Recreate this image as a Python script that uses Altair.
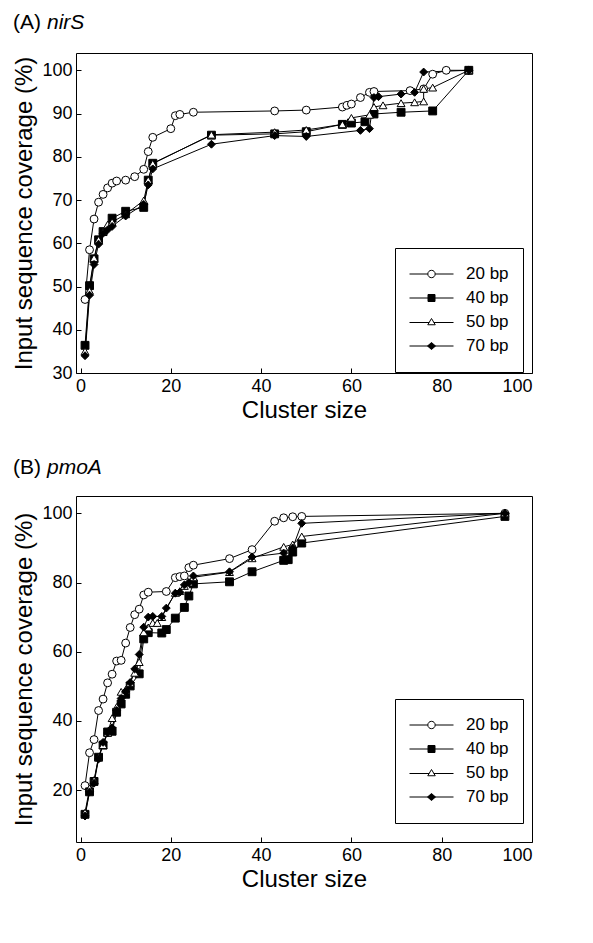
import altair as alt
import pandas as pd

SERIES = ["20 bp", "40 bp", "50 bp", "70 bp"]
PANEL_LABELS = ["(A)", "(B)"]
GENES = ["nirS", "pmoA"]
X_TITLE = "Cluster size"
Y_TITLE = "Input sequence coverage (%)"

# ---------------- Panel A (nirS) ----------------
A20_X = [1, 2, 3, 4, 5, 6, 7, 8, 10, 12, 14, 15, 16, 20, 21, 22, 25, 43, 50, 58, 59, 60, 62, 64, 65, 73, 76, 78, 81, 86]
A20_Y = [47, 58.5, 65.6, 69.5, 71.3, 72.8, 73.9, 74.4, 74.6, 75.4, 77.1, 81.2, 84.5, 86.5, 89.5, 89.8, 90.3, 90.6, 90.8, 91.5, 91.9, 92.2, 93.7, 94.9, 95.1, 95.3, 95.7, 99.1, 100, 100]
A40_X = [1, 2, 3, 4, 5, 7, 10, 14, 15, 16, 29, 43, 50, 58, 60, 63, 65, 71, 78, 86]
A40_Y = [36.4, 50.2, 56.4, 60.8, 62.7, 65.8, 67.4, 68.3, 74.6, 78.5, 85.0, 85.3, 85.8, 87.5, 87.8, 88.1, 89.9, 90.3, 90.6, 100]
A50_X = [1, 2, 3, 4, 5, 6, 7, 10, 14, 15, 16, 29, 43, 50, 58, 60, 64, 65, 67, 71, 74, 76, 76, 78, 86]
A50_Y = [35, 49, 56.6, 60.8, 62.7, 64.3, 64.9, 66.7, 69.9, 74.6, 78.4, 85.1, 85.7, 86.2, 87.5, 89.0, 89.7, 91.5, 91.9, 92.4, 92.6, 92.8, 95.7, 96.0, 100]
A70_X = [1, 2, 3, 4, 5, 6, 7, 10, 14, 15, 16, 29, 43, 50, 62, 64, 65, 66, 71, 74, 76, 86]
A70_Y = [34, 48, 55.1, 59.8, 62.3, 63.1, 63.9, 66.3, 69, 73.5, 77.2, 82.9, 84.9, 84.7, 86.1, 86.5, 93.7, 93.9, 94.5, 94.9, 99.6, 100]

# ---------------- Panel B (pmoA) ----------------
B20_X = [1, 2, 3, 4, 5, 6, 7, 8, 9, 10, 11, 12, 13, 14, 15, 19, 21, 22, 23, 24, 25, 33, 38, 43, 45, 47, 49, 94]
B20_Y = [21.3, 30.8, 34.6, 43, 46.3, 51, 53.5, 57.3, 57.5, 62.5, 67, 70.7, 72.3, 76.4, 77.2, 77.4, 81.4, 81.7, 81.9, 84.3, 85, 86.9, 89.5, 97.7, 98.7, 99, 99.1, 100]
B40_X = [1, 2, 3, 4, 5, 6, 7, 8, 9, 10, 11, 13, 14, 15, 18, 19, 21, 23, 24, 25, 33, 38, 45, 46, 47, 49, 94]
B40_Y = [13, 19.5, 22.5, 29.5, 33, 36.8, 37, 42.5, 44.9, 47.7, 50.1, 53.6, 63.7, 65.5, 65.4, 66.4, 69.7, 72.8, 76.1, 79.6, 80.2, 83.1, 86.4, 86.6, 88.8, 91.4, 99.1]
B50_X = [1, 2, 3, 4, 5, 6, 7, 8, 9, 10, 11, 12, 13, 14, 15, 16, 17, 18, 21, 22, 23, 24, 25, 33, 38, 45, 47, 49, 94]
B50_Y = [13.5, 20.5, 22.9, 29.5, 33, 36.5, 40.8, 44, 48.4, 49, 51, 53.9, 57, 65.6, 67, 68.3, 68.3, 70, 77, 77.5, 79, 80, 81.5, 83, 87, 90.3, 91, 93.3, 100]
B70_X = [1, 2, 3, 4, 5, 6, 7, 8, 9, 10, 11, 12, 13, 14, 15, 16, 18, 19, 21, 22, 23, 24, 25, 33, 38, 45, 47, 49, 94]
B70_Y = [12.5, 19.5, 22, 29, 33.8, 36.5, 38, 43, 46.5, 48.5, 51.1, 55, 59.2, 67.1, 70, 70.2, 70.2, 72.6, 76.9, 77.2, 79.3, 80, 81.9, 83.1, 87.4, 88.5, 90, 97.1, 100]

FONT = "Liberation Sans"
SHAPES = ["circle", "square", "triangle-up", "diamond"]
FILLS = ["white", "black", "white", "black"]
STROKES = ["black", "black", "black", "black"]
# legend symbols: a short line through the marker
LEG_SHAPES = [
    "M-4.4,0H-0.74M0.74,0H4.4M-0.74,0A0.74,0.74,0,1,0,0.74,0A0.74,0.74,0,1,0,-0.74,0Z",
    "M-4.4,0H4.4M-0.7,-0.7H0.7V0.7H-0.7Z",
    "M-4.4,0.1H-0.45M0.45,0.1H4.4M0,-0.7L0.75,0.55L-0.75,0.55Z",
    "M-4.4,0H4.4M0,-0.7L0.8,0L0,0.7L-0.8,0Z",
]

W = 456
TITLE_FS = 21


def make_df(xs_list, ys_list):
    rows = []
    for s, xs, ys in zip(SERIES, xs_list, ys_list):
        for i, (x, y) in enumerate(zip(xs, ys)):
            rows.append({"series": s, "x": x, "y": y, "idx": i})
    return pd.DataFrame(rows)


def panel(df, label, gene, ydomain, yticks, H, lx, ly, title_y):
    x = alt.X("x:Q", scale=alt.Scale(domain=[-1, 100], nice=False, zero=False),
              axis=alt.Axis(values=[0, 20, 40, 60, 80, 100], title=X_TITLE,
                            titlePadding=3, labelPadding=4))
    y = alt.Y("y:Q", scale=alt.Scale(domain=ydomain, nice=False, zero=False),
              axis=alt.Axis(values=yticks, title=Y_TITLE, titlePadding=5, labelPadding=4))
    base = alt.Chart(df)
    lines = base.mark_line(color="black", strokeWidth=1).encode(
        x=x, y=y, detail="series:N", order="idx:Q")
    pts = base.mark_point(filled=True, stroke="black", strokeWidth=1, size=62, opacity=1).encode(
        x=x, y=y,
        shape=alt.Shape("series:N", scale=alt.Scale(domain=SERIES, range=SHAPES), legend=None),
        fill=alt.Fill("series:N", scale=alt.Scale(domain=SERIES, range=FILLS), legend=None),
    )
    leg = alt.Legend(orient="none", legendX=lx, legendY=ly, title=None,
                     strokeColor="black", fillColor="white", padding=14,
                     symbolSize=100, symbolStrokeWidth=1, symbolStrokeColor="black",
                     symbolOpacity=1, symbolOffset=14, labelOffset=26,
                     labelFont=FONT, labelFontSize=17, labelColor="black",
                     clipHeight=24, rowPadding=0)
    dummy = base.mark_point(filled=False, strokeWidth=1, opacity=0).encode(
        x=x, y=y,
        shape=alt.Shape("series:N", scale=alt.Scale(domain=SERIES, range=LEG_SHAPES), legend=leg),
        fill=alt.Fill("series:N", scale=alt.Scale(domain=SERIES, range=FILLS), legend=leg),
        stroke=alt.Stroke("series:N", scale=alt.Scale(domain=SERIES, range=STROKES), legend=leg),
    )
    lab_df = pd.DataFrame({"t": [label]})
    gene_df = pd.DataFrame({"t": [gene]})
    t1 = alt.Chart(lab_df).mark_text(font=FONT, fontSize=TITLE_FS, align="left",
                                     baseline="alphabetic", color="black").encode(
        text="t:N", x=alt.value(-63), y=alt.value(title_y))
    t2 = alt.Chart(gene_df).mark_text(font=FONT, fontSize=TITLE_FS, fontStyle="italic",
                                      align="left", baseline="alphabetic", color="black").encode(
        text="t:N", x=alt.value(-29), y=alt.value(title_y))
    return alt.layer(lines, pts, dummy, t1, t2).resolve_scale(
        shape="independent", fill="independent", stroke="independent").properties(width=W, height=H)


dfA = make_df([A20_X, A40_X, A50_X, A70_X], [A20_Y, A40_Y, A50_Y, A70_Y])
dfB = make_df([B20_X, B40_X, B50_X, B70_X], [B20_Y, B40_Y, B50_Y, B70_Y])

pA = panel(dfA, PANEL_LABELS[0], GENES[0], [30, 104], [30, 40, 50, 60, 70, 80, 90, 100],
           320, 319, 195, -24)
pB = panel(dfB, PANEL_LABELS[1], GENES[1], [5, 105], [20, 40, 60, 80, 100],
           346, 319, 203, -22)

chart = alt.vconcat(pA, pB, spacing=33).properties(
    padding={"left": 4, "top": 3, "right": 2, "bottom": 2}
).configure_view(
    stroke="black", strokeWidth=1
).configure_axis(
    labelFont=FONT, labelFontSize=18, labelColor="black",
    titleFont=FONT, titleFontSize=24, titleFontWeight="normal", titleColor="black",
    tickColor="black", tickSize=5, offset=-5, domain=False, grid=False,
)

chart.save("out.html", embed_options={"renderer": "svg", "actions": False})
